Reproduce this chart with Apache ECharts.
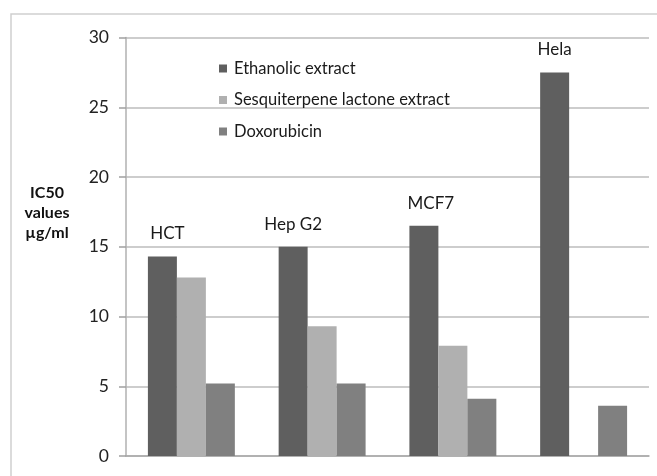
<!DOCTYPE html>
<html>
<head>
<meta charset="utf-8">
<script src="https://cdn.jsdelivr.net/npm/echarts@6/dist/echarts.min.js"></script>
<style>
  html, body { margin: 0; padding: 0; background: #fff; }
  #chart { width: 657px; height: 476px; }
</style>
</head>
<body>
<div id="chart"></div>
<script>
// Cell lines tested
var cellLines = ['HCT', 'Hep G2', 'MCF7', 'Hela'];
// IC50 values (µg/ml) per treatment
var ethanolic = [14.3, 15.0, 16.5, 27.5];
var sesquiterpene = [12.8, 9.3, 7.9, null];
var doxorubicin = [5.2, 5.2, 4.1, 3.6];
var yTicks = [0, 5, 10, 15, 20, 25, 30];

var FONT = 'Lato, "Open Sans", sans-serif';
var chart = echarts.init(document.getElementById('chart'), null, { renderer: 'canvas' });

// small horizontal nudges for the cell-line names above the first bar
var nameShift = [5, 0, 7, 0];

chart.setOption({
  animation: false,
  backgroundColor: '#ffffff',
  textStyle: { fontFamily: FONT },
  grid: { left: 126, right: 8, top: 37.5, bottom: 20, containLabel: false },
  legend: {
    orient: 'vertical',
    left: 214,
    top: 55,
    itemWidth: 8,
    itemHeight: 8,
    itemGap: 14.5,
    icon: 'rect',
    textStyle: { fontFamily: FONT, fontSize: 16.5, color: '#1a1a1a', padding: [0, 0, 0, 2] },
    data: ['Ethanolic extract', 'Sesquiterpene lactone extract', 'Doxorubicin']
  },
  xAxis: {
    type: 'category',
    data: cellLines,
    axisLine: { show: true, lineStyle: { color: '#a8a8a8', width: 1.5 } },
    axisTick: { show: false },
    axisLabel: { show: false }
  },
  yAxis: {
    type: 'value',
    min: yTicks[0],
    max: yTicks[yTicks.length - 1],
    interval: 5,
    axisLine: { show: true, lineStyle: { color: '#b0b0b0', width: 1.5 } },
    axisTick: { show: true, inside: false, length: 7, lineStyle: { color: '#a0a0a0', width: 1.5 } },
    axisLabel: { margin: 17, fontFamily: FONT, fontSize: 17.5, color: '#222' },
    splitLine: { show: true, lineStyle: { color: '#bdbdbd', width: 1.5 } }
  },
  graphic: [
    {
      type: 'rect',
      silent: true,
      shape: { x: 11, y: 14, width: 700, height: 520 },
      style: { fill: 'none', stroke: '#cfcfcf', lineWidth: 1.5 }
    },
    {
      type: 'text',
      style: {
        text: 'IC50\nvalues\nµg/ml',
        x: 47, y: 213,
        fill: '#111',
        font: 'bold 16px ' + FONT,
        align: 'center',
        verticalAlign: 'middle',
        lineHeight: 20
      }
    }
  ],
  series: [
    {
      name: 'Ethanolic extract',
      type: 'bar',
      data: ethanolic.map(function (v, i) {
        return { value: v, label: { offset: [nameShift[i], 0] } };
      }),
      itemStyle: { color: '#5f5f5f' },
      barGap: '0%',
      barCategoryGap: '33.5%',
      label: {
        show: true,
        position: 'top',
        distance: 14,
        formatter: '{b}',
        fontFamily: FONT,
        fontSize: 17,
        color: '#1a1a1a'
      }
    },
    {
      name: 'Sesquiterpene lactone extract',
      type: 'bar',
      data: sesquiterpene,
      itemStyle: { color: '#b0b0b0' },
      barGap: '0%',
      barCategoryGap: '33.5%'
    },
    {
      name: 'Doxorubicin',
      type: 'bar',
      data: doxorubicin,
      itemStyle: { color: '#808080' },
      barGap: '0%',
      barCategoryGap: '33.5%'
    }
  ]
});
</script>
</body>
</html>
